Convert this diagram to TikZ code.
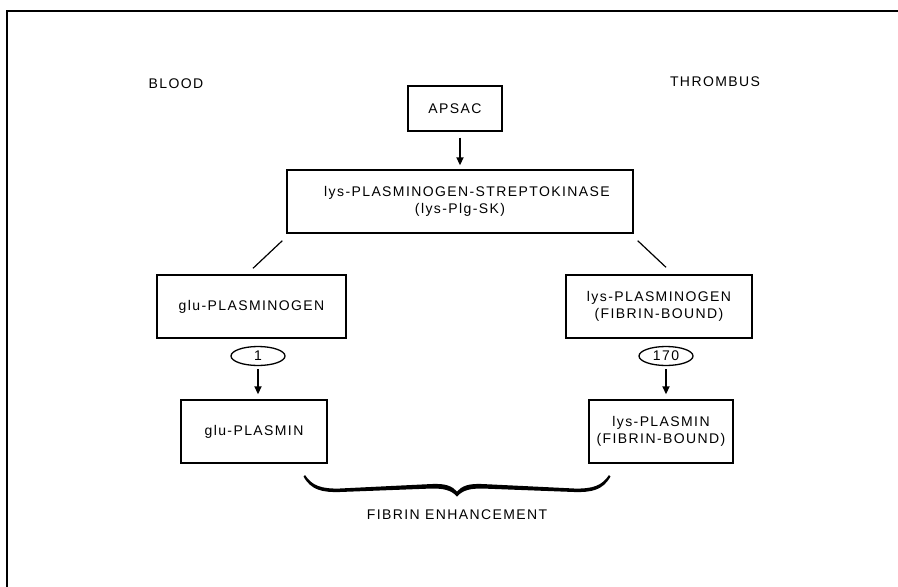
\documentclass[tikz,border=0pt]{standalone}
\usepackage{fontspec}
\setmainfont[LetterSpace=10]{Liberation Sans}
\usetikzlibrary{arrows.meta,shapes.geometric}
\tikzset{
  box/.style={draw, line width=1.4pt, inner sep=0pt, align=center, font=\fontsize{14}{17}\selectfont},
  lbl/.style={inner sep=0pt, align=center, font=\fontsize{14}{17}\selectfont},
  oval/.style={draw, ellipse, line width=1.3pt, minimum width=54pt, minimum height=19pt, inner sep=0pt, font=\fontsize{14}{15}\selectfont},
  arr/.style={line width=1.8pt, -{Triangle[length=8pt,width=7pt]}},
  thin/.style={line width=1.2pt}
}
\begin{document}
\begin{tikzpicture}[x=1pt,y=-1pt]
\useasboundingbox (0,0) rectangle (898,587);
% frame
\draw[line width=2.5pt] (7,587) -- (7,11) -- (898,11);
% labels
\node[lbl] (blood) at (176,84) {BLOOD};
\node[lbl] (thrombus) at (715,82) {THROMBUS};
% boxes
\node[box, minimum width=94pt, minimum height=45pt] (apsac) at (455,108.5) {APSAC};
\node[box, minimum width=346pt, minimum height=63pt] (big) at (460,201.5) {\hspace*{14pt}lys-PLASMINOGEN-STREPTOKINASE\\(lys-Plg-SK)};
\node[box, minimum width=189pt, minimum height=63pt] (glupg) at (251.5,306.5) {glu-PLASMINOGEN};
\node[box, minimum width=186pt, minimum height=63pt] (lyspg) at (659,306.5) {lys-PLASMINOGEN\\(FIBRIN-BOUND)};
\node[oval] (e1) at (258,356) {1};
\node[oval] (e170) at (666,356) {170};
\node[box, minimum width=146pt, minimum height=63pt] (glupm) at (254,431.5) {\raisebox{-5pt}{glu-PLASMIN}};
\node[box, minimum width=144pt, minimum height=63pt] (lyspm) at (661,431.5) {lys-PLASMIN\\(FIBRIN-BOUND)};
% arrows
\draw[arr, shorten <=6pt, shorten >=4pt] (apsac.south -| big.north) -- (big.north);
\draw[arr, shorten <=3pt, shorten >=5pt] (e1.south) -- (e1.south |- glupm.north);
\draw[arr, shorten <=3pt, shorten >=5pt] (e170.south) -- (e170.south |- lyspm.north);
% diagonal links
\draw[thin] ([shift={(-4,7)}]big.south west) -- ([shift={(1.5,-6)}]glupg.north);
\draw[thin] ([shift={(4,7)}]big.south east) -- ([shift={(7,-7)}]lyspg.north);
% brace
\fill (305,475) .. controls (312,486) and (322,489) .. (340,488.5)
  -- (432,484) .. controls (446,483.5) and (452,486) .. (457,491.5)
  .. controls (462,486) and (468,483.5) .. (482,484)
  -- (574,488.5) .. controls (592,489) and (602,486) .. (609,475)
  -- (610.5,476.5) .. controls (603,490) and (592,492.5) .. (574,492)
  -- (482,488.5) .. controls (470,488.5) and (463,490) .. (457,496.5)
  .. controls (451,490) and (444,488.5) .. (432,488.5)
  -- (340,492) .. controls (322,492.5) and (311,490) .. (303.5,476.5) -- cycle;
\node[lbl] (fe) at (457,515) {FIBRIN ENHANCEMENT};
\end{tikzpicture}
\end{document}
